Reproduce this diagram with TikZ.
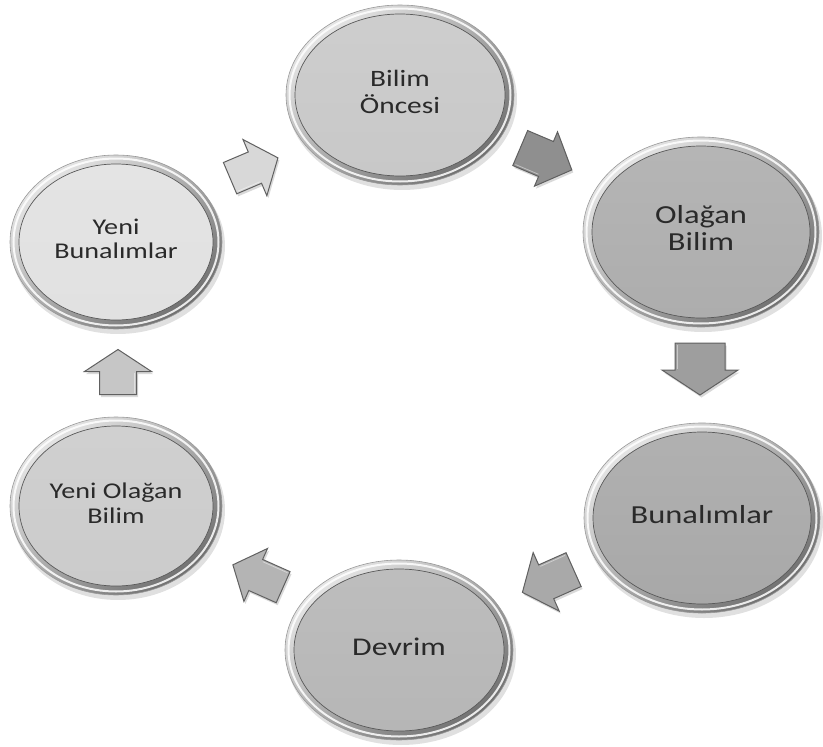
\documentclass[tikz,border=0pt]{standalone}
\usepackage{fontspec}
\setmainfont{Carlito}
\usepackage{graphicx}
\usetikzlibrary{shapes.geometric}
\definecolor{txt}{HTML}{2A2A2A}
\definecolor{rimlight}{HTML}{E6E6E6}
\definecolor{rimdark}{HTML}{707070}
\definecolor{cBO}{HTML}{C8C8C8}
\definecolor{cOB}{HTML}{ADADAD}
\definecolor{cBU}{HTML}{A8A8A8}
\definecolor{cDE}{HTML}{B6B6B6}
\definecolor{cYO}{HTML}{CBCBCB}
\definecolor{cYB}{HTML}{E1E1E1}
\definecolor{aA}{HTML}{8F8F8F}
\definecolor{aB}{HTML}{9E9E9E}
\definecolor{aC}{HTML}{A9A9A9}
\definecolor{aD}{HTML}{B4B4B4}
\definecolor{aE}{HTML}{C6C6C6}
\definecolor{aF}{HTML}{D8D8D8}
\newcommand{\btext}[3]{\scalebox{1.25}[1]{\fontsize{#1}{#2}\selectfont\begin{tabular}{@{}c@{}}#3\end{tabular}}}
\newcommand{\bubble}[5]{%
  \fill[black,opacity=0.12] (#1+2,#2+4) ellipse [x radius=#3+1, y radius=#4+1];
  \path[top color=rimlight, bottom color=rimdark, shading angle=40, draw=gray!80, line width=0.6pt] (#1,#2) ellipse [x radius=#3, y radius=#4];
  \draw[white, opacity=0.85, line width=2pt] (#1,#2) ellipse [x radius=#3-3.5, y radius=#4-3.5];
  \path[top color=#5!90!white, bottom color=#5, draw=gray!70!black, line width=0.7pt] (#1,#2) ellipse [x radius=#3-9, y radius=#4-9];
}
\newcommand{\arrowpath}[4]{(-#1/2,-#3/2) -- (#1/2-#4,-#3/2) -- (#1/2-#4,-#2/2) -- (#1/2,0) -- (#1/2-#4,#2/2) -- (#1/2-#4,#3/2) -- (-#1/2,#3/2) -- cycle}
\newcommand{\blockarrow}[9]{%
  \begin{scope}[shift={(#2+1.5,#3+2.5)}, rotate=#4]
    \fill[black, opacity=0.15] \arrowpath{#5}{#6}{#7}{#8};
  \end{scope}
  \begin{scope}[shift={(#2,#3)}, rotate=#4]
    \filldraw[fill=#9, draw=gray!75!black, line width=1pt, line join=miter] \arrowpath{#5}{#6}{#7}{#8};
    \draw[white, opacity=0.45, line width=0.8pt] (-#5/2+2,#7/2-2) -- (#5/2-#8-1,#7/2-2);
    \node[coordinate] (#1) at (0,0) {};
  \end{scope}}
\tikzset{
  bubbletext/.style={ellipse, inner sep=0pt, text=txt},
}
\begin{document}
\begin{tikzpicture}[x=1pt, y=-1pt]
\fill[white] (0,0) rectangle (823,747);
\useasboundingbox (0,0) rectangle (823,747);
% bubbles
\bubble{400}{95}{114}{90}{cBO}
\bubble{701}{232}{118}{95}{cOB}
\bubble{702}{518}{118}{95}{cBU}
\bubble{399}{650}{114}{90}{cDE}
\bubble{116}{506}{106}{89}{cYO}
\bubble{116}{242}{106}{87}{cYB}
% arrows
\blockarrow{a1}{546}{159}{-23}{56}{59}{38}{28}{aA}
\blockarrow{a2}{700}{369}{-90}{52}{76}{50}{25}{aB}
\blockarrow{a3}{548}{581}{-156}{56}{64}{37}{26}{aC}
\blockarrow{a4}{258}{576}{156}{55}{58}{34}{25}{aD}
\blockarrow{a5}{118}{372}{90}{45}{67}{37}{22}{aE}
\blockarrow{a6}{254}{168}{23}{52}{61}{34}{25}{aF}
% texts
\node[bubbletext, minimum width=228pt, minimum height=180pt] (bo) at (400,95) {\btext{23.5}{26.5}{Bilim\\Öncesi}};
\node[bubbletext, minimum width=236pt, minimum height=190pt] (ob) at (701,232) {\btext{26}{27}{Olağan\\Bilim}};
\node[bubbletext, minimum width=236pt, minimum height=190pt] (bu) at (702,518) {\btext{26}{27}{Bunalımlar}};
\node[bubbletext, minimum width=228pt, minimum height=180pt] (de) at (399,650) {\btext{25.5}{27}{Devrim}};
\node[bubbletext, minimum width=212pt, minimum height=178pt] (yo) at (116,506) {\btext{22.5}{25}{Yeni Olağan\\Bilim}};
\node[bubbletext, minimum width=212pt, minimum height=174pt] (yb) at (116,242) {\btext{22.5}{23.5}{Yeni\\Bunalımlar}};
\end{tikzpicture}
\end{document}
